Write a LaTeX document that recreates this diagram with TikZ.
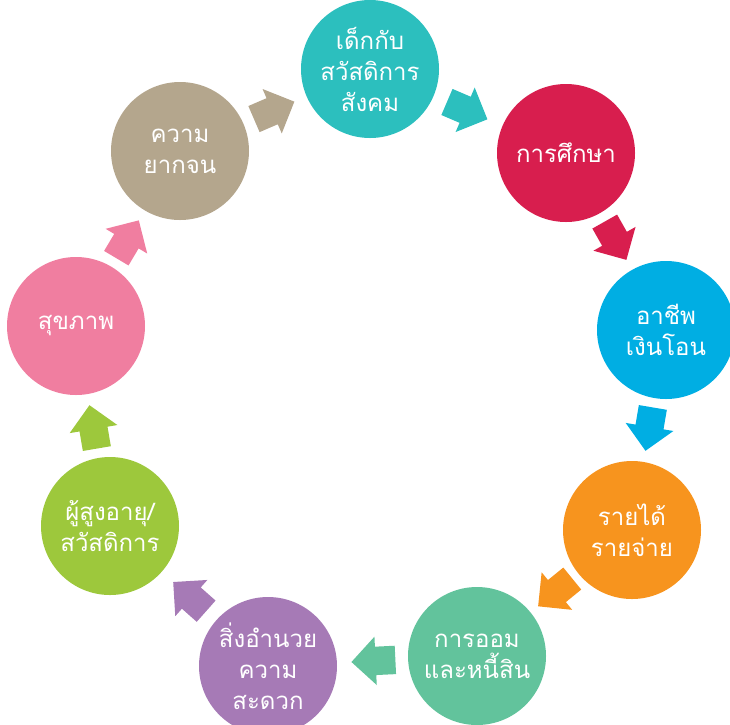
\documentclass[tikz,border=0pt]{standalone}
\usepackage{fontspec}
\newfontfamily\thaifont[Script=Thai]{Loma}
\usetikzlibrary{shapes.arrows}
\definecolor{kidcol}{HTML}{2CBFBE}
\definecolor{educol}{HTML}{D81E4E}
\definecolor{jobcol}{HTML}{00AEE3}
\definecolor{incomecol}{HTML}{F7941E}
\definecolor{savecol}{HTML}{62C39C}
\definecolor{facilcol}{HTML}{A67AB6}
\definecolor{eldercol}{HTML}{9DC83C}
\definecolor{healthcol}{HTML}{F07EA0}
\definecolor{povcol}{HTML}{B4A68D}
\begin{document}
\begin{tikzpicture}[x=1pt, y=-1pt,
    ball/.style={circle, minimum size=138pt, inner sep=0pt, text=white, align=center,
      font=\thaifont\fontsize{24}{31}\selectfont},
    blockarrow/.style={single arrow, single arrow head extend=10pt, minimum width=48pt,
      minimum height=44pt, inner xsep=0pt, inner ysep=14pt, sloped, allow upside down,
      xshift=-8pt}]
    \useasboundingbox (0,0) rectangle (730,724);

    \node[ball, fill=kidcol] (kid) at (370,69) {เด็กกับ\\สวัสดิการ\\สังคม};
    \node[ball, fill=educol] (edu) at (566,153) {การศึกษา};
    \node[ball, fill=jobcol] (job) at (666,330) {อาชีพ\\เงินโอน};
    \node[ball, fill=incomecol] (income) at (632,530) {รายได้\\รายจ่าย};
    \node[ball, fill=savecol] (saving) at (477,656) {การออม\\และหนี้สิน};
    \node[ball, fill=facilcol] (facility) at (268,666) {สิ่งอำนวย\\ความ\\สะดวก};
    \node[ball, fill=eldercol] (elder) at (110,526) {ผู้สูงอายุ/\\สวัสดิการ};
    \node[ball, fill=healthcol] (health) at (76,326) {สุขภาพ};
    \node[ball, fill=povcol] (poverty) at (180,151) {ความ\\ยากจน};

    \path (poverty) -- node[blockarrow, fill=povcol] (a1) {} (kid);
    \path (kid) -- node[blockarrow, fill=kidcol] (a2) {} (edu);
    \path (edu) -- node[blockarrow, fill=educol] (a3) {} (job);
    \path (job) -- node[blockarrow, fill=jobcol] (a4) {} (income);
    \path (income) -- node[blockarrow, fill=incomecol] (a5) {} (saving);
    \path (saving) -- node[blockarrow, fill=savecol] (a6) {} (facility);
    \path (facility) -- node[blockarrow, fill=facilcol] (a7) {} (elder);
    \path (elder) -- node[blockarrow, fill=eldercol] (a8) {} (health);
    \path (health) -- node[blockarrow, fill=healthcol] (a9) {} (poverty);
\end{tikzpicture}
\end{document}
